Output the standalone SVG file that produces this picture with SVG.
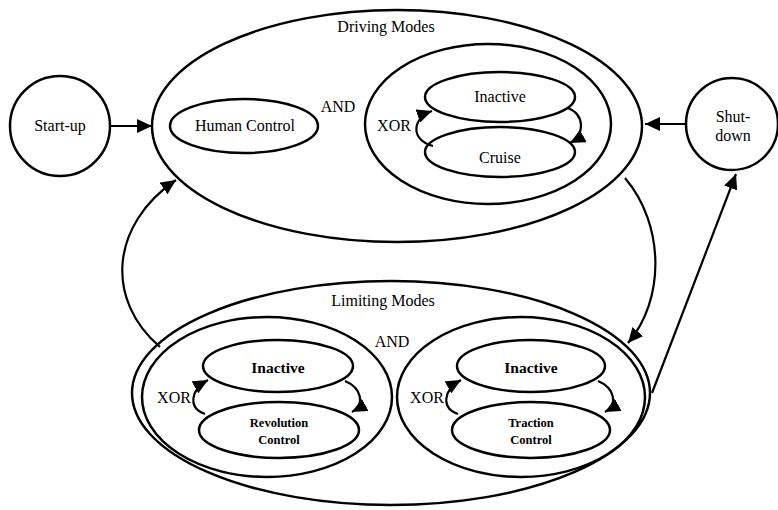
<svg xmlns="http://www.w3.org/2000/svg" width="778" height="510" viewBox="0 0 778 510">
<defs>
<marker id="ah" markerUnits="userSpaceOnUse" markerWidth="16" markerHeight="14" refX="15" refY="7" orient="auto">
<path d="M0,0 L15,7 L0,14 z" fill="#000"/>
</marker>
<style>
.s{fill:none;stroke:#000;stroke-width:2.5}
.c{fill:none;stroke:#000;stroke-width:2.2;marker-end:url(#ah)}
text{font-family:"Liberation Serif","Times New Roman",serif;fill:#000;text-anchor:middle}
.t{font-size:16px}
.b{font-size:15.5px;font-weight:bold}
.sm{font-size:12.5px;font-weight:bold}
</style>
</defs>
<rect width="778" height="510" fill="#fff"/>
<g id="startup">
<circle class="s" cx="60" cy="126" r="50"/>
<text class="t" x="60" y="131">Start-up</text>
</g>
<g id="shutdown">
<circle class="s" cx="732" cy="124" r="46"/>
<text class="t" x="733" y="122">Shut-</text>
<text class="t" x="733" y="141">down</text>
</g>
<g id="driving">
<ellipse class="s" cx="397" cy="126" rx="245" ry="116"/>
<text class="t" x="386" y="32">Driving Modes</text>
<text class="t" x="338" y="112">AND</text>
</g>
<g id="human">
<ellipse class="s" cx="244" cy="126" rx="74" ry="27"/>
<text class="t" x="245" y="131">Human Control</text>
</g>
<g id="cruiseXor">
<ellipse class="s" cx="488" cy="124" rx="123" ry="80"/>
<text class="t" x="394" y="131">XOR</text>
</g>
<g id="drvInactive">
<ellipse class="s" cx="500" cy="97" rx="75" ry="25"/>
<text class="t" x="500" y="102">Inactive</text>
</g>
<g id="cruise">
<ellipse class="s" cx="500" cy="152" rx="75" ry="25"/>
<text class="t" x="500" y="163">Cruise</text>
</g>
<g id="limiting">
<ellipse class="s" cx="391" cy="393" rx="259" ry="112"/>
<text class="t" x="383" y="306">Limiting Modes</text>
<text class="t" x="392" y="347">AND</text>
</g>
<g id="revXor">
<ellipse class="s" cx="267" cy="397" rx="125" ry="80"/>
<text class="t" x="174" y="403">XOR</text>
</g>
<g id="revInactive">
<ellipse class="s" cx="278" cy="366" rx="75" ry="26"/>
<text class="b" x="278" y="373">Inactive</text>
</g>
<g id="revControl">
<ellipse class="s" cx="279" cy="430" rx="80" ry="28"/>
<text class="sm" x="279" y="427">Revolution</text>
<text class="sm" x="279" y="444">Control</text>
</g>
<g id="tracXor">
<ellipse class="s" cx="521" cy="397" rx="124" ry="80"/>
<text class="t" x="427" y="403">XOR</text>
</g>
<g id="tracInactive">
<ellipse class="s" cx="531" cy="366" rx="74" ry="26"/>
<text class="b" x="531" y="373">Inactive</text>
</g>
<g id="tracControl">
<ellipse class="s" cx="531" cy="430" rx="79" ry="28"/>
<text class="sm" x="531" y="427">Traction</text>
<text class="sm" x="531" y="444">Control</text>
</g>
<g id="connectors">
<path class="c" d="M110,126 L152,126"/>
<path class="c" d="M686,124 L645,124"/>
<path class="c" d="M160,347 C105,300 110,225 176,180"/>
<path class="c" d="M625,178 C665,225 665,300 628,343"/>
<path class="c" d="M652,393 L736,174"/>
<path class="c" d="M433,146 C410,140 412,118 432,111"/>
<path class="c" d="M568,108 C585,115 585,135 570,143"/>
<path class="c" d="M205,414 C188,408 190,390 208,380"/>
<path class="c" d="M345,381 C362,388 365,405 352,412"/>
<path class="c" d="M458,414 C441,408 443,390 461,380"/>
<path class="c" d="M598,381 C615,388 618,405 605,412"/>
</g>
</svg>
